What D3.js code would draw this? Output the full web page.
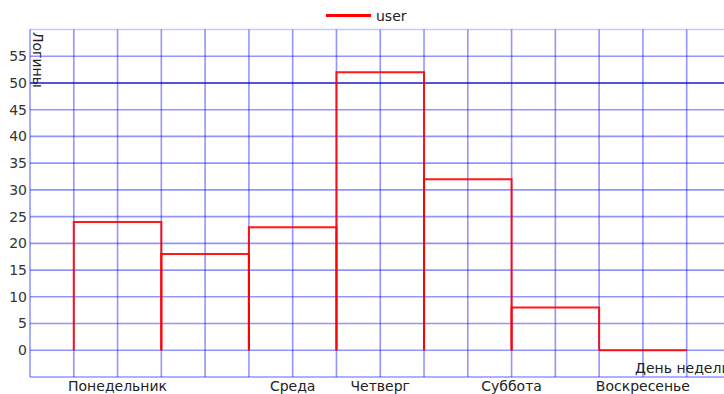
<!DOCTYPE html>
<html>
<head>
<meta charset="utf-8">
<title>Логины</title>
<script src="https://d3js.org/d3.v7.min.js"></script>
<style>
  body { margin: 0; background: #fff; }
  text { font-family: "DejaVu Sans", sans-serif; }
</style>
</head>
<body>
<div id="chart"></div>
<script>
    // data
    var days = ["Понедельник", "Вторник", "Среда", "Четверг", "Пятница", "Суббота", "Воскресенье"];
    var dayPos = [1, 2, 3, 4, 5, 6, 7];
    var logins = [24, 18, 23, 52, 32, 8, 0];
    var tickPos = [1, 3, 4, 5.5, 7];
    var tickLabels = ["Понедельник", "Среда", "Четверг", "Суббота", "Воскресенье"];
    var yTicks = [0, 5, 10, 15, 20, 25, 30, 35, 40, 45, 50, 55];

    var W = 724, H = 394;
    var margin = { top: 29.5, left: 30, bottom: 17.5 };

    var svg = d3.select("#chart").append("svg")
        .attr("width", W).attr("height", H);

    var x = d3.scaleLinear().domain([0, 8]).range([margin.left, margin.left + 16 * 43.78]);
    var y = d3.scaleLinear().domain([-5, 60]).range([H - margin.bottom + 0.5, margin.top]);

    // grid
    var grid = svg.append("g").attr("stroke", "rgba(0,0,255,0.42)").attr("stroke-width", 1.6);
    grid.selectAll("line.v")
        .data(d3.range(0, 8.01, 0.5))
        .enter().append("line")
        .attr("x1", function (d) { return x(d); }).attr("x2", function (d) { return x(d); })
        .attr("y1", y(60)).attr("y2", y(-5));
    grid.selectAll("line.h")
        .data(d3.range(-5, 60.1, 5))
        .enter().append("line")
        .attr("x1", x(0)).attr("x2", W)
        .attr("y1", function (d) { return y(d); }).attr("y2", function (d) { return y(d); })
        .attr("stroke", function (d) { return d == 50 ? "rgba(0,0,200,0.9)" : (d == 60 ? "rgba(0,0,255,0.22)" : null); });

    // y tick labels
    svg.append("g").selectAll("text")
        .data(yTicks)
        .enter().append("text")
        .attr("x", 27)
        .attr("y", function (d) { return y(d); })
        .attr("dy", "0.35em")
        .attr("text-anchor", "end")
        .style("font-size", "14px")
        .style("fill", "#333")
        .text(function (d) { return d; });

    // x tick labels
    svg.append("g").selectAll("text")
        .data(tickPos)
        .enter().append("text")
        .attr("x", function (d) { return x(d); })
        .attr("y", 391)
        .attr("text-anchor", "middle")
        .style("font-size", "14px")
        .style("fill", "#222")
        .text(function (d, i) { return tickLabels[i]; });

    // bars as open outlines
    svg.append("g").selectAll("path")
        .data(logins)
        .enter().append("path")
        .attr("fill", "none")
        .attr("stroke", "rgba(255,0,0,0.9)")
        .attr("stroke-width", 2)
        .attr("d", function (d, i) {
            var x0 = x(dayPos[i] - 0.5), x1 = x(dayPos[i] + 0.5);
            return "M" + x0 + "," + y(0) + "L" + x0 + "," + y(d) + "L" + x1 + "," + y(d) + "L" + x1 + "," + y(0);
        });

    // axis titles
    svg.append("text")
        .attr("transform", "translate(32.5,32) rotate(90)")
        .style("font-size", "14px")
        .style("fill", "#222")
        .text("Логины");
    svg.append("text")
        .attr("x", 635).attr("y", 373)
        .style("font-size", "14px")
        .style("fill", "#222")
        .text("День недели");

    // legend
    svg.append("line")
        .attr("x1", 326).attr("x2", 371)
        .attr("y1", 15.5).attr("y2", 15.5)
        .attr("stroke", "red").attr("stroke-width", 3);
    svg.append("text")
        .attr("x", 376).attr("y", 20.5)
        .style("font-size", "14px")
        .style("fill", "#222")
        .text("user");
</script>
</body>
</html>
